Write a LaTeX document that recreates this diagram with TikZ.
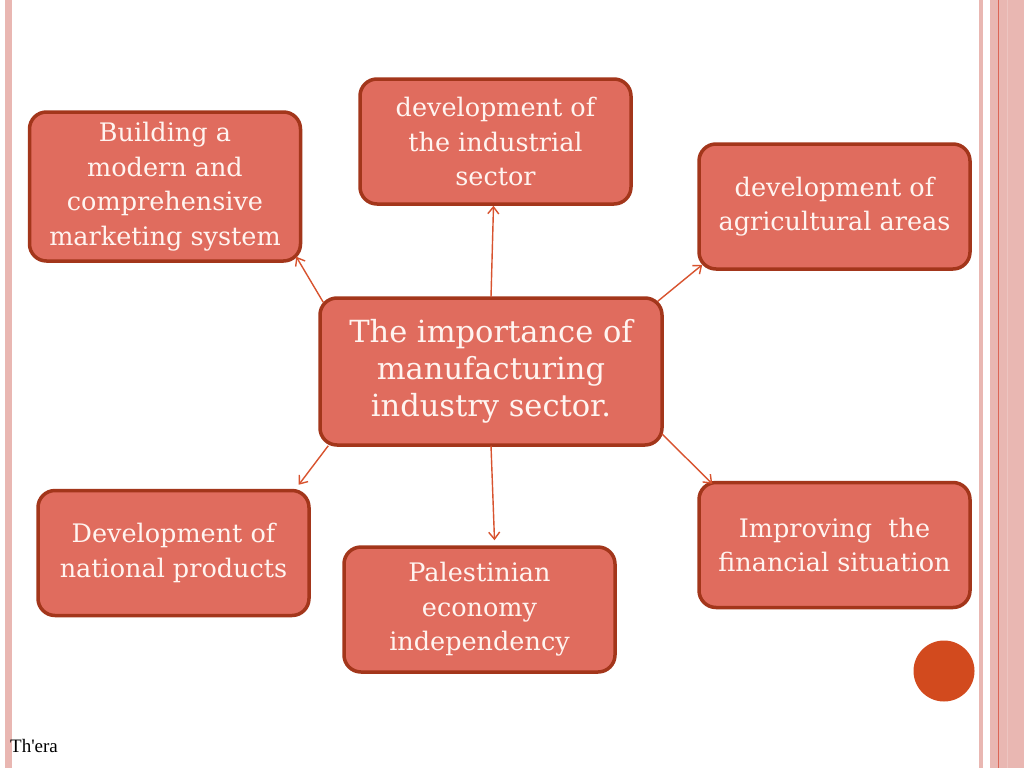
\documentclass[tikz,border=0pt]{standalone}
\usepackage{fontspec}
\setmainfont{DejaVu Serif}
\newfontfamily\footfont{Liberation Serif}
\usepackage{tikz}
\usetikzlibrary{arrows.meta,positioning,calc}
\definecolor{clFill}{HTML}{E06C5E}
\definecolor{clBorder}{HTML}{A3361B}
\definecolor{clText}{HTML}{FFF4F0}
\definecolor{clLink}{HTML}{D8532F}
\definecolor{clStripe}{HTML}{E9B7B2}
\definecolor{clStripeLine}{HTML}{DB6656}
\definecolor{clDot}{HTML}{D24A1E}
\tikzset{
  topic/.style={rectangle, rounded corners=17pt, draw=clBorder, line width=3.5pt,
                fill=clFill, text=clText, align=center, inner sep=2pt,
                minimum width=271pt, minimum height=125pt,
                font=\fontsize{25.5}{34.5}\selectfont},
  hub/.style={topic, minimum width=342pt, minimum height=147pt,
              font=\fontsize{30.5}{37}\selectfont},
  link/.style={-{Straight Barb[length=7pt,width=11pt]}, line width=1.4pt, draw=clLink},
}
\begin{document}
\begin{tikzpicture}[x=1pt,y=-1pt]
  \useasboundingbox[fill=white] (0,0) rectangle (1024,768);
  \fill[clStripe] (5,0) rectangle (12,768);
  \fill[clStripe] (979,0) rectangle (983,768);
  \fill[clStripe] (990,0) rectangle (1024,768);
  \fill[clStripeLine] (997.5,0) rectangle (999,768);
  \fill[clStripe!80!white] (1006.5,0) rectangle (1007.5,768);

  \node[topic, minimum height=149pt] (mkt) at (165,186.5) {Building a\\modern and\\comprehensive\\marketing system};
  \node[topic] (ind) at (495.5,141.5) {development of\\the industrial\\sector};
  \node[topic] (agr) at (834.5,206.5) {development of\\agricultural areas};
  \node[hub] (imp) at (491,371.5) {The importance of\\manufacturing\\industry sector.};
  \node[topic] (nat) at (173.5,553) {Development of\\national products};
  \node[topic] (pal) at (479.5,609.5) {Palestinian\\economy\\independency};
  \node[topic] (fin) at (834.5,545) {Improving\ \ the\\financial situation};

  \fill[clDot] (944,671) circle (30.5);
  \node[font=\footfont\fontsize{19}{22}\selectfont, anchor=base west, inner sep=0pt] (era) at (10,752) {Th'era};

  \draw[link] ([xshift=5pt,yshift=-6pt]imp.north west) -- ([xshift=-6pt,yshift=6pt]mkt.south east);
  \draw[link] ([yshift=-1pt]imp.north) -- ([xshift=-2pt]ind.south);
  \draw[link] ([xshift=-6pt,yshift=-5pt]imp.north east) -- ([xshift=5pt,yshift=6pt]agr.south west);
  \draw[link] ([xshift=10pt,yshift=1pt]imp.south west) -- ([xshift=-12pt,yshift=4pt]nat.north east);
  \draw[link] ([yshift=1pt]imp.south) -- ([xshift=15pt,yshift=5pt]pal.north);
  \draw[link] ([xshift=-2pt,yshift=13pt]imp.south east) -- ([xshift=15pt,yshift=-3pt]fin.north west);
\end{tikzpicture}
\end{document}
